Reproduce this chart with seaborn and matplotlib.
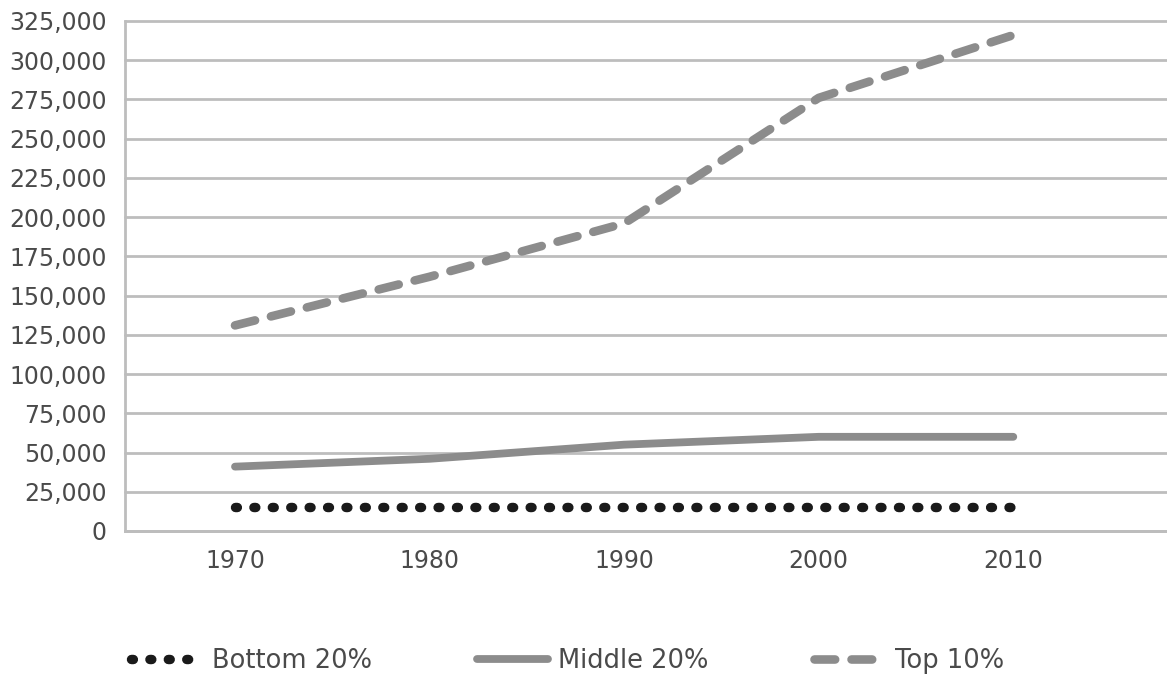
import numpy as np
import pandas as pd
import matplotlib
matplotlib.use("Agg")
import matplotlib.pyplot as plt
from matplotlib.ticker import FuncFormatter
import seaborn as sns

# Income by group, 1970-2010
years = [1970, 1980, 1990, 2000, 2010]
bottom_20 = [15000, 15000, 15000, 15000, 15000]
middle_20 = [41000, 46000, 55000, 60000, 60000]
top_10 = [131000, 162000, 196000, 276000, 316000]
series_names = ["Bottom 20%", "Middle 20%", "Top 10%"]
y_ticks = list(range(0, 325001, 25000))

sns.set_theme(style="white")
plt.rcParams["font.family"] = ["DejaVu Sans"]

df = pd.DataFrame({
    "year": years * 3,
    "income": bottom_20 + middle_20 + top_10,
    "group": [series_names[0]] * 5 + [series_names[1]] * 5 + [series_names[2]] * 5,
})

fig = plt.figure(figsize=(11.67, 6.77), dpi=100)
ax = fig.add_axes([0.107, 0.2157, 0.893, 0.7533])

# dash patterns are in units of line width (matplotlib scales them)
styles = {
    "Bottom 20%": dict(color="#1a1a1a", lw=6.8, dashes=(0.2, 1.75)),
    "Middle 20%": dict(color="#8c8c8c", lw=5.6, dashes=None),
    "Top 10%": dict(color="#8c8c8c", lw=6.2, dashes=(2.4, 1.9)),
}

handles = []
for name in series_names:
    st = styles[name]
    sub = df[df["group"] == name]
    sns.lineplot(data=sub, x="year", y="income", ax=ax, color=st["color"],
                 linewidth=st["lw"], label=name, legend=False, zorder=3)
    line = ax.lines[-1]
    line.set_solid_capstyle("round")
    line.set_dash_capstyle("round")
    if st["dashes"] is not None:
        line.set_dashes(st["dashes"])
    handles.append(line)

ax.set_xlim(1964.34, 2017.9)
ax.set_ylim(0, 325000)
ax.set_xticks(years)
ax.set_yticks(y_ticks)
ax.yaxis.set_major_formatter(FuncFormatter(lambda v, p: f"{int(v):,}"))
ax.set_xlabel("")
ax.set_ylabel("")

ax.grid(axis="y", color="#bdbdbd", linewidth=2.0)
ax.grid(axis="x", visible=False)
for g in ax.get_ygridlines():
    g.set_clip_on(False)
ax.set_axisbelow(True)

for side in ["top", "right"]:
    ax.spines[side].set_visible(False)
for side in ["left", "bottom"]:
    ax.spines[side].set_color("#bdbdbd")
    ax.spines[side].set_linewidth(2.0)

ax.tick_params(axis="both", length=0, labelsize=17, labelcolor="#4a4a4a")
ax.tick_params(axis="y", pad=13)
ax.tick_params(axis="x", pad=13)

leg = fig.legend(handles, series_names, loc="center", bbox_to_anchor=(0.486, 0.0235),
                 ncol=3, frameon=False, fontsize=18.5, handlelength=2.75,
                 handletextpad=0.4, columnspacing=4.1, labelcolor="#4a4a4a")

fig.savefig("out.png", dpi=100, facecolor="white")
